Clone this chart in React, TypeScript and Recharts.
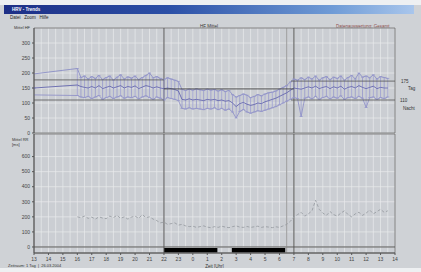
import React from "react";
import {
  CartesianGrid,
  ComposedChart,
  ErrorBar,
  Line,
  ReferenceArea,
  ReferenceLine,
  XAxis,
  YAxis,
} from "recharts";

// hour labels for the 26 x ticks (0..25)
const hourLabels = [
  "13", "14", "15", "16", "17", "18", "19", "20", "21", "22", "23", "0", "1",
  "2", "3", "4", "5", "6", "7", "8", "9", "10", "11", "12", "13", "14",
];
const hourTicks = [0, 1, 2, 3, 4, 5, 6, 7, 8, 9, 10, 11, 12, 13, 14, 15, 16, 17, 18, 19, 20, 21, 22, 23, 24, 25];
const halfHours = [
  0, 0.5, 1, 1.5, 2, 2.5, 3, 3.5, 4, 4.5, 5, 5.5, 6, 6.5, 7, 7.5, 8, 8.5, 9, 9.5, 10, 10.5, 11, 11.5, 12, 12.5,
  13, 13.5, 14, 14.5, 15, 15.5, 16, 16.5, 17, 17.5, 18, 18.5, 19, 19.5, 20, 20.5, 21, 21.5, 22, 22.5, 23, 23.5,
  24, 24.5, 25,
];

const times = [
  0, 3, 3.25, 3.5, 3.75, 4, 4.25, 4.5, 4.75, 5, 5.25, 5.5, 5.75, 6, 6.25, 6.5, 6.75, 7, 7.25, 7.5, 7.75,
  8, 8.25, 8.5, 8.75, 9, 9.25, 9.5, 9.75, 10, 10.25, 10.5, 10.75, 11, 11.25, 11.5, 11.75, 12, 12.25, 12.5,
  12.75, 13, 13.25, 13.5, 13.75, 14, 14.25, 14.5, 14.75, 15, 15.25, 15.5, 15.75, 16, 16.25, 16.5, 16.75,
  17, 17.25, 17.5, 17.75, 18, 18.25, 18.5, 18.75, 19, 19.25, 19.5, 19.75, 20, 20.25, 20.5, 20.75, 21,
  21.25, 21.5, 21.75, 22, 22.25, 22.5, 22.75, 23, 23.25, 23.5, 23.75, 24, 24.25, 24.5,
];

// HF: maximum, minimum and mean per interval
const hfMax = [
  197, 215, 185, 190, 180, 188, 182, 192, 178, 185, 190, 176, 186, 194, 180, 187, 183, 190, 178, 185, 192,
  200, 184, 188, 182, 178, 184, 180, 176, 172, 145, 142, 146, 143, 147, 144, 142, 146, 143, 145,
  140, 144, 138, 142, 128, 120, 125, 130, 126, 118, 122, 128, 124, 130, 134, 136, 140,
  146, 152, 158, 170, 180, 176, 184, 178, 186, 180, 190, 176, 184, 188, 178, 186, 182,
  190, 176, 185, 192, 180, 200, 186, 190, 184, 194, 180, 188, 185, 182,
];
const hfMin = [
  127, 125, 120, 118, 122, 115, 120, 125, 112, 118, 122, 115, 120, 124, 116, 120, 118, 122, 114, 120, 124,
  118, 112, 120, 116, 110, 118, 115, 112, 108, 82, 80, 84, 80, 82, 80, 78, 82, 80, 84,
  78, 82, 76, 80, 70, 50, 72, 78, 70, 66, 70, 74, 72, 76, 80, 84, 88,
  94, 100, 106, 112, 118, 115, 55, 116, 120, 114, 122, 112, 118, 122, 114, 120, 116,
  124, 112, 118, 120, 115, 122, 116, 85, 118, 120, 112, 118, 115, 120,
];
const hfMean = [
  150, 160, 155, 152, 150, 155, 150, 158, 148, 152, 156, 150, 154, 158, 150, 155, 152, 157, 148, 153, 158,
  155, 150, 154, 150, 148, 150, 148, 145, 140, 112, 110, 114, 110, 112, 110, 108, 112, 110, 112,
  108, 110, 106, 108, 100, 88, 98, 102, 96, 92, 95, 100, 98, 104, 108, 112, 116,
  122, 128, 134, 142, 150, 148, 146, 150, 154, 150, 156, 148, 152, 155, 148, 154, 150,
  156, 146, 152, 155, 150, 158, 152, 148, 152, 156, 148, 152, 150, 150,
];

// second panel: mean per interval
const lowerVals = [
  null, 200, 195, 205, 190, 198, 185, 200, 192, 188, 205, 195, 210, 190, 200, 185, 198, 205, 190, 215, 195,
  200, 185, 175, 160, 165, 150, 155, 160, 145, 150, 140, 135, 138, 130, 135, 140, 132, 128, 135,
  130, 138, 132, 128, 135, 140, 132, 130, 136, 130, 134, 138, 130, 135, 132, 128, 134,
  130, 140, 150, 170, 200, 215, 230, 205, 220, 240, 310, 250, 225, 210, 235, 215, 205,
  225, 240, 215, 200, 220, 230, 210, 225, 245, 220, 235, 250, 230, 240,
];

// limit lines (upper / rest / lower)
const upperLimit = [{ t: 0, v: 177 }, { t: 9, v: 177 }, { t: 9.01, v: null }, { t: 17.8, v: 173 }, { t: 25, v: 173 }];
const restLimit = [{ t: 9, v: 147 }, { t: 18, v: 147 }];
const lowerLimit = [{ t: 0, v: 110 }, { t: 9, v: 110 }, { t: 9.01, v: null }, { t: 17.8, v: 110 }, { t: 25, v: 110 }];

// sleep periods shown as black bars
const sleepPeriods = [
  { from: 9, to: 12.7 },
  { from: 13.7, to: 17.4 },
];

const topTicks = [0, 50, 100, 150, 200, 250, 300];
const lowTicks = [0, 100, 200, 300, 400, 500, 600];

const topData = times.map((t, i) => ({
  t,
  max: hfMax[i],
  min: hfMin[i],
  mean: hfMean[i],
  spread: i === 0 ? [0, 0] : [hfMean[i] - hfMin[i], hfMax[i] - hfMean[i]],
}));
const lowData = times.map((t, i) => ({ t, v: lowerVals[i] }));

const FONT = "'Liberation Sans', Arial, sans-serif";
const tickStyle = { fontSize: 5, fill: "#444", fontFamily: FONT };

// half-hour grid lines
const gridGen = ({ xAxis, offset }: any) =>
  halfHours.map((h) =>
    xAxis && typeof xAxis.scale === "function" ? xAxis.scale(h) : offset.left + (h / 25) * offset.width
  );

function Header({ top, center, right }: { top: number; center: string; right: string }) {
  return (
    <>
      <div style={{ position: "absolute", top, left: 200, fontSize: 4.5, color: "#333" }}>{center}</div>
      <div style={{ position: "absolute", top, left: 336, fontSize: 4.5, color: "#8a4a4a" }}>{right}</div>
    </>
  );
}

export default function App() {
  return (
    <div
      style={{
        position: "fixed",
        left: 0,
        top: 0,
        width: 421,
        height: 272,
        background: "#cfd2d6",
        overflow: "hidden",
        fontFamily: FONT,
      }}
    >
      <div style={{ position: "absolute", top: 0, left: 0, width: 421, height: 5, background: "#eef0f2" }} />
      <div
        style={{
          position: "absolute",
          top: 5,
          left: 4,
          width: 410,
          height: 9,
          background: "linear-gradient(90deg, #1d2f86 0%, #2b4fa6 40%, #6f9bd6 80%, #a9c6ec 100%)",
          color: "#fff",
          fontSize: 4.5,
          fontWeight: "bold",
          lineHeight: "9px",
          paddingLeft: 8,
          boxSizing: "border-box",
        }}
      >
        HRV - Trends
      </div>
      <div style={{ position: "absolute", top: 15, left: 10, fontSize: 4.5, color: "#222" }}>
        Datei&nbsp;&nbsp;&nbsp;Zoom&nbsp;&nbsp;&nbsp;Hilfe
      </div>
      <div style={{ position: "absolute", top: 25, left: 14, fontSize: 4, color: "#333" }}>Mittel HF</div>
      <Header top={24} center="HF Mittel" right="Datenauswertung: Gesamt" />

      <div style={{ position: "absolute", top: 22, left: 0 }}>
        <ComposedChart width={421} height={116} data={topData} margin={{ top: 6, right: 26, bottom: 5, left: 0 }}>
          <CartesianGrid stroke="#e9ebed" strokeWidth={0.7} fill="#cbced3" verticalCoordinatesGenerator={gridGen} />
          <XAxis dataKey="t" type="number" domain={[0, 25]} ticks={hourTicks} hide />
          <YAxis
            type="number"
            domain={[0, 350]}
            ticks={topTicks}
            width={34}
            tick={tickStyle}
            tickSize={2}
            stroke="#555"
            interval={0}
          />
          <ReferenceArea x1={0} x2={25} y1={0} y2={350} fillOpacity={0} stroke="#666" strokeWidth={0.8} />
          <ReferenceLine x={9} stroke="#555" strokeWidth={1} />
          <ReferenceLine x={17.5} stroke="#888" strokeWidth={0.8} />
          <ReferenceLine x={18} stroke="#555" strokeWidth={1} />
          <Line dataKey="max" stroke="#8386c4" strokeWidth={0.8} dot={false} isAnimationActive={false} />
          <Line dataKey="min" stroke="#8a8cc6" strokeWidth={0.8} dot={false} isAnimationActive={false} />
          <Line dataKey="mean" stroke="#6466ae" strokeWidth={0.9} dot={false} isAnimationActive={false}>
            <ErrorBar dataKey="spread" direction="y" width={1.5} stroke="#9597cc" strokeWidth={0.8} />
          </Line>
          <Line data={upperLimit} dataKey="v" stroke="#555" strokeWidth={0.8} dot={false} isAnimationActive={false} />
          <Line data={restLimit} dataKey="v" stroke="#444" strokeWidth={0.9} dot={false} isAnimationActive={false} />
          <Line data={lowerLimit} dataKey="v" stroke="#555" strokeWidth={0.8} dot={false} isAnimationActive={false} />
          <ReferenceLine
            y={173}
            strokeOpacity={0}
            label={{ value: "175", position: "right", fontSize: 4.5, fill: "#333", offset: 6 }}
          />
          <ReferenceLine
            y={147}
            strokeOpacity={0}
            label={{ value: "Tag", position: "right", fontSize: 4.5, fill: "#333", offset: 13 }}
          />
          <ReferenceLine
            y={110}
            strokeOpacity={0}
            label={{ value: "110", position: "right", fontSize: 4.5, fill: "#333", offset: 5 }}
          />
          <ReferenceLine
            y={83}
            strokeOpacity={0}
            label={{ value: "Nacht", position: "right", fontSize: 4.5, fill: "#333", offset: 8 }}
          />
        </ComposedChart>
      </div>

      <div style={{ position: "absolute", top: 137, left: 12, fontSize: 4, color: "#333", lineHeight: "5px" }}>
        Mittel RR
        <br />
        [ms]
      </div>
      <Header top={136} center="RR-Int." right="Datenauswertung: Gesamt" />

      <div style={{ position: "absolute", top: 130, left: 0 }}>
        <ComposedChart width={421} height={138} data={lowData} margin={{ top: 4, right: 26, bottom: 0, left: 0 }}>
          <CartesianGrid stroke="#e9ebed" strokeWidth={0.7} fill="#cbced3" verticalCoordinatesGenerator={gridGen} />
          <XAxis
            dataKey="t"
            type="number"
            domain={[0, 25]}
            ticks={hourTicks}
            interval={0}
            tickFormatter={(v: number) => hourLabels[v]}
            tick={tickStyle}
            tickSize={2}
            stroke="#555"
            height={15}
            label={{ value: "Zeit [Uhr]", position: "insideBottom", offset: 0, fontSize: 4.5, fill: "#333" }}
          />
          <YAxis
            type="number"
            domain={[-40, 750]}
            ticks={lowTicks}
            width={34}
            tick={tickStyle}
            tickSize={2}
            stroke="#555"
            interval={0}
          />
          <ReferenceArea x1={0} x2={25} y1={-40} y2={750} fillOpacity={0} stroke="#666" strokeWidth={0.8} />
          <ReferenceLine y={0} stroke="#555" strokeWidth={1} />
          <ReferenceLine x={9} stroke="#555" strokeWidth={1} />
          <ReferenceLine x={17.5} stroke="#888" strokeWidth={0.8} />
          <ReferenceLine x={18} stroke="#555" strokeWidth={1} />
          {sleepPeriods.map((p) => (
            <ReferenceArea key={p.from} x1={p.from} x2={p.to} y1={-36} y2={-6} fill="#000" fillOpacity={1} />
          ))}
          <Line
            dataKey="v"
            stroke="#9a9ea4"
            strokeWidth={0.9}
            strokeDasharray="3 2"
            dot={false}
            isAnimationActive={false}
          />
        </ComposedChart>
      </div>

      <div style={{ position: "absolute", top: 263, left: 8, fontSize: 4, color: "#333" }}>
        Zeitraum: 1 Tag&nbsp;&nbsp;|&nbsp;&nbsp;26.03.2004
      </div>
      <div style={{ position: "absolute", top: 268, left: 0, width: 421, height: 4, background: "#eef0f2" }} />
    </div>
  );
}
